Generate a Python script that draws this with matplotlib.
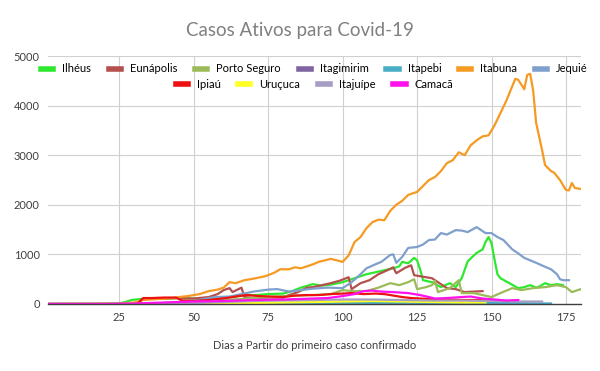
import matplotlib
matplotlib.use("Agg")
import matplotlib.pyplot as plt
from matplotlib.lines import Line2D

plt.rcParams['font.family'] = ['Lato', 'DejaVu Sans']

# dias desde o primeiro caso e casos ativos
ilheus_dias = [1, 20, 25, 27, 29, 32, 36, 40, 45, 50, 55, 60, 64, 67, 71, 75, 80, 83, 86, 90,
               93, 96, 100, 104, 108, 111, 114, 117, 119, 120, 122, 124, 125, 126, 127, 130,
               133, 136, 138, 140, 142, 145, 147, 148, 149, 150, 151, 152, 153, 156, 159, 161,
               163, 165, 166, 168, 170, 172, 174]
ilheus_casos = [0, 5, 15, 40, 80, 100, 110, 105, 120, 110, 120, 130, 150, 180, 180, 200, 210, 260,
                330, 400, 370, 390, 440, 520, 600, 640, 680, 720, 760, 850, 820, 930, 880, 700,
                480, 440, 340, 420, 340, 520, 860, 1030, 1100, 1250, 1350, 1230, 900, 600, 520,
                420, 320, 340, 380, 330, 350, 420, 380, 400, 380]

eunapolis_dias = [1, 28, 31, 33, 38, 45, 50, 55, 58, 60, 62, 63, 66, 67, 70, 75, 80, 82, 85, 88,
                  90, 93, 96, 99, 102, 103, 106, 109, 112, 115, 117, 118, 121, 123, 124, 126,
                  130, 132, 135, 138, 141, 144, 147]
eunapolis_casos = [0, 0, 20, 100, 110, 120, 110, 140, 200, 280, 320, 240, 330, 140, 120, 130, 130,
                   180, 240, 330, 340, 380, 420, 470, 540, 300, 420, 480, 600, 680, 740, 620, 730,
                   780, 580, 560, 520, 440, 320, 300, 240, 250, 260]

porto_seguro_dias = [1, 30, 40, 50, 60, 70, 80, 90, 96, 100, 103, 108, 112, 116, 119, 122, 124,
                     125, 128, 130, 131, 132, 136, 139, 140, 144, 147, 150, 153, 157, 160, 164,
                     168, 172, 175, 177, 180]
porto_seguro_casos = [0, 0, 20, 40, 80, 120, 160, 180, 200, 280, 260, 260, 330, 420, 380, 440, 500,
                      300, 340, 380, 470, 240, 320, 480, 220, 220, 180, 140, 220, 320, 280, 320,
                      340, 380, 340, 240, 300]

itagimirim_dias = [1, 50, 70, 90, 110, 130, 150, 160]
itagimirim_casos = [0, 0, 10, 20, 30, 20, 15, 10]

itapebi_dias = [1, 60, 80, 100, 120, 140, 160, 170]
itapebi_casos = [0, 0, 10, 20, 25, 20, 15, 10]

itabuna_dias = [1, 25, 30, 33, 38, 42, 45, 48, 52, 55, 58, 60, 62, 64, 67, 70, 74, 77, 79, 82,
                84, 86, 88, 90, 92, 94, 96, 98, 100, 102, 104, 106, 108, 110, 112, 114, 116,
                118, 120, 122, 125, 127, 129, 131, 133, 135, 137, 139, 141, 143, 145, 147, 149,
                151, 153, 155, 156, 158, 159, 161, 162, 163, 164, 165, 167, 168, 170, 171, 173,
                175, 176, 177, 178, 180]
itabuna_casos = [0, 5, 30, 80, 100, 110, 140, 160, 200, 260, 290, 330, 440, 420, 480, 510, 560,
                 630, 700, 700, 740, 720, 760, 800, 850, 880, 910, 880, 850, 980, 1250, 1350,
                 1530, 1650, 1700, 1690, 1880, 2000, 2080, 2200, 2260, 2380, 2500, 2560, 2680,
                 2840, 2900, 3060, 3000, 3200, 3300, 3380, 3400, 3600, 3850, 4100, 4250, 4540,
                 4520, 4330, 4620, 4640, 4300, 3650, 3100, 2800, 2680, 2650, 2500, 2300, 2290,
                 2440, 2340, 2320]

jequie_dias = [1, 30, 40, 50, 57, 62, 66, 70, 75, 78, 82, 86, 90, 95, 100, 103, 106, 108, 111,
               113, 116, 117, 118, 120, 122, 125, 127, 129, 131, 133, 135, 138, 140, 142, 145,
               148, 150, 152, 154, 157, 159, 161, 163, 165, 168, 170, 172, 173, 174, 176]
jequie_casos = [0, 0, 20, 60, 140, 150, 200, 250, 290, 300, 250, 280, 310, 330, 320, 440, 600,
                720, 800, 850, 990, 1000, 830, 950, 1130, 1150, 1200, 1290, 1300, 1430, 1400,
                1490, 1480, 1450, 1550, 1430, 1430, 1350, 1290, 1100, 1020, 930, 880, 830, 750,
                700, 600, 500, 480, 480]

ipiau_dias = [1, 31, 33, 36, 40, 44, 46, 50, 55, 58, 62, 65, 68, 72, 76, 80, 84, 88, 92, 96,
              100, 103, 107, 111, 114, 117, 120, 123, 126, 130, 135, 140, 145, 150, 152]
ipiau_casos = [0, 0, 120, 120, 130, 130, 70, 60, 80, 100, 130, 160, 180, 160, 150, 140, 170, 180,
               180, 200, 210, 220, 200, 210, 200, 170, 140, 120, 110, 100, 90, 80, 80, 70, 70]

urucuca_dias = [1, 50, 60, 70, 80, 90, 100, 110, 120, 130, 140, 148]
urucuca_casos = [0, 0, 10, 20, 30, 40, 50, 60, 50, 40, 30, 30]

itajuipe_dias = [1, 40, 50, 60, 70, 80, 90, 100, 110, 120, 130, 140, 150, 160, 167]
itajuipe_casos = [0, 0, 20, 40, 60, 70, 80, 90, 90, 80, 70, 70, 60, 50, 50]

camaca_dias = [1, 20, 30, 40, 50, 60, 70, 80, 90, 95, 100, 104, 107, 110, 113, 117, 122, 126,
               129, 131, 135, 140, 143, 147, 151, 155, 159]
camaca_casos = [0, 0, 10, 30, 50, 60, 80, 90, 110, 120, 160, 200, 260, 270, 250, 240, 220, 180,
                140, 110, 120, 140, 150, 110, 90, 70, 80]

series = [
    ('Ilhéus', ilheus_dias, ilheus_casos, '#2ee82e'),
    ('Eunápolis', eunapolis_dias, eunapolis_casos, '#b4514e'),
    ('Porto Seguro', porto_seguro_dias, porto_seguro_casos, '#9bbb59'),
    ('Itagimirim', itagimirim_dias, itagimirim_casos, '#8064a2'),
    ('Itapebi', itapebi_dias, itapebi_casos, '#4bacc6'),
    ('Itabuna', itabuna_dias, itabuna_casos, '#f59a23'),
    ('Jequié', jequie_dias, jequie_casos, '#7f9fcc'),
    ('Ipiaú', ipiau_dias, ipiau_casos, '#ee1111'),
    ('Uruçuca', urucuca_dias, urucuca_casos, '#ffff22'),
    ('Itajuípe', itajuipe_dias, itajuipe_casos, '#a79cc4'),
    ('Camacã', camaca_dias, camaca_casos, '#ff11ee'),
]

fig = plt.figure(figsize=(6, 3.71), dpi=100)
ax = fig.add_axes([0.08, 0.1806, 0.888, 0.6684])

for nome, dias, casos, cor in series:
    ax.plot(dias, casos, color=cor, linewidth=1.6, label=nome, solid_joinstyle='round')

ax.set_xlim(1, 180)
ax.set_ylim(0, 5000)
ax.set_xticks([25, 50, 75, 100, 125, 150, 175])
ax.set_yticks([0, 1000, 2000, 3000, 4000, 5000])
ax.grid(True, color='#d0d0d0', linewidth=0.8)
ax.set_axisbelow(True)
for lado in ['top', 'right', 'left']:
    ax.spines[lado].set_visible(False)
ax.spines['bottom'].set_color('#404040')
ax.spines['bottom'].set_linewidth(1.0)
ax.tick_params(length=0, labelsize=8, labelcolor='#404040', pad=6)

ax.set_xlabel('Dias a Partir do primeiro caso confirmado', fontsize=8, color='#404040',
              labelpad=12)
fig.suptitle('Casos Ativos para Covid-19', fontsize=13.5, color='#808080', y=0.94)

# legenda em duas linhas, estilo Excel
handles = [Line2D([], [], color=cor, linewidth=4) for _, _, _, cor in series]
nomes = [s[0] for s in series]
leg1 = ax.legend(handles[:7], nomes[:7], ncol=7, loc='center', bbox_to_anchor=(0.5, 0.948),
                 frameon=False, fontsize=8, handlelength=1.1, columnspacing=1.6,
                 handletextpad=0.8, borderaxespad=0)
ax.add_artist(leg1)
ax.legend(handles[7:], nomes[7:], ncol=4, loc='center', bbox_to_anchor=(0.5, 0.884),
          frameon=False, fontsize=8, handlelength=1.1, columnspacing=1.6,
          handletextpad=0.8, borderaxespad=0)

fig.savefig('out.png', dpi=100)
